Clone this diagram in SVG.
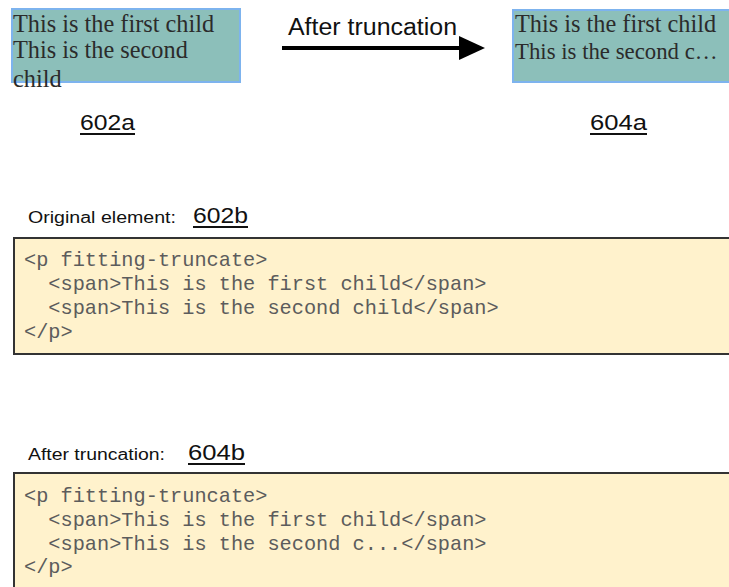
<svg xmlns="http://www.w3.org/2000/svg" width="729" height="587" viewBox="0 0 729 587">
<style>
.bg{fill:#ffffff}
.teal{fill:#8cbfba;stroke:#7db3ee;stroke-width:2}
.tealfill{fill:#8cbfba}
.tealedge{fill:none;stroke:#7db3ee;stroke-width:2}
.ser{font-family:"Liberation Serif","Times New Roman",serif;font-size:24.3px;fill:#2b2b2b}
.sans{font-family:"Liberation Sans",Arial,sans-serif;fill:#111}
.lab{font-size:22px}
.head{font-size:16px}
.ul{stroke:#111;stroke-width:2}
.code{fill:#fff2cc;stroke:#333;stroke-width:2}
.mono{font-family:"Liberation Mono","Courier New",monospace;font-size:20.3px;fill:#5c5c5c;white-space:pre}
.conn{stroke:#000;stroke-width:4;fill:none}
</style>
<defs>
<marker id="ah" markerWidth="8" markerHeight="6" refX="0" refY="3" orient="auto" markerUnits="strokeWidth">
<path d="M0,0 L6.5,3 L0,6 Z" fill="#000"/>
</marker>
</defs>
<rect class="bg" x="0" y="0" width="729" height="587"/>

<g id="node-602a">
<rect class="teal" x="12" y="9" width="228" height="73"/>
<text class="ser" x="13" y="32">This is the first child</text>
<text class="ser" x="13" y="58">This is the second</text>
<text class="ser" x="13" y="87">child</text>
</g>

<g id="label-602a">
<text class="sans lab" x="80" y="130" textLength="55" lengthAdjust="spacingAndGlyphs">602a</text>
<line class="ul" x1="80" y1="134" x2="135" y2="134"/>
</g>

<g id="node-604a">
<rect class="tealfill" x="513" y="10" width="216" height="72"/>
<path class="tealedge" d="M729,10 H513 V82 H729"/>
<text class="ser" x="515" y="32">This is the first child</text>
<text class="ser" x="515" y="59" style="font-size:22.8px">This is the second c…</text>
</g>

<g id="label-604a">
<text class="sans lab" x="590" y="130" textLength="57" lengthAdjust="spacingAndGlyphs">604a</text>
<line class="ul" x1="590" y1="134" x2="647" y2="134"/>
</g>

<g id="connectors">
<line class="conn" x1="282" y1="48" x2="459" y2="48" marker-end="url(#ah)"/>
<text class="sans" x="288" y="35" style="font-size:23px" textLength="169" lengthAdjust="spacingAndGlyphs">After truncation</text>
</g>

<g id="node-602b">
<text class="sans head" x="28" y="223" textLength="148" lengthAdjust="spacingAndGlyphs">Original element:</text>
<text class="sans lab" x="193" y="223" textLength="55" lengthAdjust="spacingAndGlyphs">602b</text>
<line class="ul" x1="193" y1="227" x2="248" y2="227"/>
<rect class="code" x="14" y="238" width="720" height="116"/>
<text class="mono" x="24" y="266">&lt;p fitting-truncate&gt;</text>
<text class="mono" x="24" y="290">  &lt;span&gt;This is the first child&lt;/span&gt;</text>
<text class="mono" x="24" y="314">  &lt;span&gt;This is the second child&lt;/span&gt;</text>
<text class="mono" x="24" y="338">&lt;/p&gt;</text>
</g>

<g id="node-604b">
<text class="sans head" x="28" y="460" textLength="137" lengthAdjust="spacingAndGlyphs">After truncation:</text>
<text class="sans lab" x="188" y="460" textLength="57" lengthAdjust="spacingAndGlyphs">604b</text>
<line class="ul" x1="188" y1="464" x2="245" y2="464"/>
<rect class="code" x="14" y="473" width="720" height="130"/>
<text class="mono" x="24" y="502">&lt;p fitting-truncate&gt;</text>
<text class="mono" x="24" y="526">  &lt;span&gt;This is the first child&lt;/span&gt;</text>
<text class="mono" x="24" y="550">  &lt;span&gt;This is the second c...&lt;/span&gt;</text>
<text class="mono" x="24" y="573">&lt;/p&gt;</text>
</g>
</svg>
